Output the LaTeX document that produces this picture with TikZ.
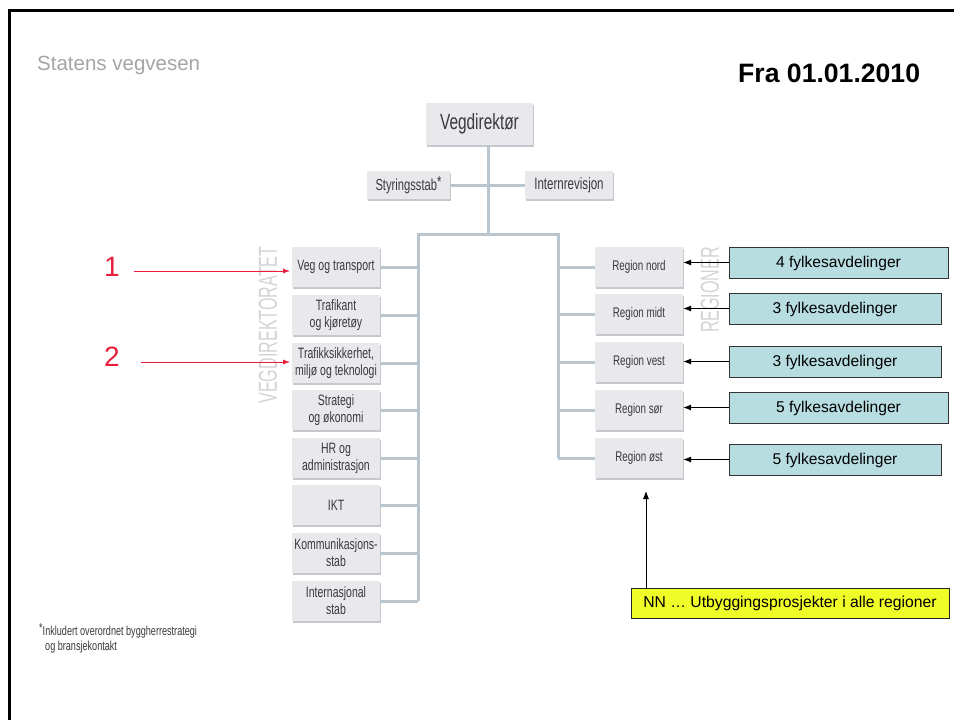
\documentclass[tikz,border=0pt]{standalone}
\usepackage{fontspec}
\setmainfont{Liberation Sans}
\newfontfamily\cond[FakeStretch=0.7]{Liberation Sans}
\newfontfamily\vcond[FakeStretch=0.62]{Liberation Sans}
\usetikzlibrary{arrows.meta,shadows}
\definecolor{boxfill}{RGB}{233,233,236}
\definecolor{boxshadow}{RGB}{196,201,207}
\definecolor{boxtext}{RGB}{58,58,62}
\definecolor{conn}{RGB}{185,197,207}
\definecolor{cyanfill}{RGB}{183,221,225}
\definecolor{yelfill}{RGB}{240,252,40}
\definecolor{redmark}{RGB}{232,30,60}
\definecolor{titlegray}{RGB}{165,165,165}
\definecolor{vertgray}{RGB}{212,212,214}
\tikzset{
  graybox/.style={fill=boxfill, draw=none, text=boxtext, align=center,
    drop shadow={shadow xshift=1.2pt, shadow yshift=-1.6pt, fill=boxshadow, opacity=1},
    inner sep=1pt},
  leftbox/.style={graybox, minimum width=88pt, minimum height=40pt,
    font=\cond\fontsize{15}{17}\selectfont},
  regbox/.style={graybox, minimum width=88pt, minimum height=40pt,
    font=\cond\fontsize{14}{16}\selectfont},
  connline/.style={draw=conn, line width=3pt},
  cyanbox/.style={fill=cyanfill, draw=black!80, line width=0.8pt, minimum height=31pt,
    font=\fontsize{15.6}{18}\selectfont, inner sep=0pt, text depth=1.5pt},
  blackarrow/.style={draw=black, line width=0.8pt, -{Latex[length=8pt,width=6pt]}},
  redarrow/.style={draw=redmark, line width=0.8pt, -{Latex[length=7pt,width=5pt]}},
  vertlabel/.style={rotate=90, text=vertgray, font=\vcond\fontsize{26}{28}\selectfont, inner sep=0pt},
}
\begin{document}
\begin{tikzpicture}[x=1pt,y=-1pt]
\useasboundingbox (0,0) rectangle (954,720);
\fill[white] (0,0) rectangle (954,720);
% frame
\draw[line width=3pt] (9,720) -- (9,10) -- (954,10);

% titles
\node[anchor=base west, text=titlegray, font=\fontsize{20.5}{24}\selectfont, inner sep=0pt] (title) at (37,70) {Statens vegvesen};
\node[anchor=base west, font=\bfseries\fontsize{26.6}{30}\selectfont, inner sep=0pt] (date) at (738,82) {Fra 01.01.2010};

% top boxes
\node[graybox, minimum width=107pt, minimum height=42pt, font=\cond\fontsize{22}{24}\selectfont] (vd) at (479.5,124) {Vegdirektør};
\node[graybox, minimum width=83pt, minimum height=28pt, font=\cond\fontsize{16}{18}\selectfont] (sty) at (408.5,185) {Styringsstab\raisebox{3pt}{*}};
\node[graybox, minimum width=88pt, minimum height=28pt, font=\cond\fontsize{16.5}{18}\selectfont] (int) at (569,185) {Internrevisjon};

% left boxes
\node[leftbox] (l1) at (336,267) {Veg og transport};
\node[leftbox] (l2) at (336,315) {Trafikant\\og kjøretøy};
\node[leftbox] (l3) at (336,363) {Trafikksikkerhet,\\miljø og teknologi};
\node[leftbox] (l4) at (336,410) {Strategi\\og økonomi};
\node[leftbox] (l5) at (336,458) {HR og\\administrasjon};
\node[leftbox] (l6) at (336,505) {IKT};
\node[leftbox] (l7) at (336,553) {Kommunikasjons-\\stab};
\node[leftbox] (l8) at (336,601) {Internasjonal\\stab};

% right boxes
\node[regbox] (r1) at (639,267) {Region nord};
\node[regbox] (r2) at (639,314) {Region midt};
\node[regbox] (r3) at (639,362) {Region vest};
\node[regbox] (r4) at (639,410) {Region sør};
\node[regbox] (r5) at (639,458) {Region øst};

% vertical labels
\node[vertlabel] (vdir) at (268,325) {VEGDIREKTORATET};
\node[vertlabel] (vreg) at (710,290) {REGIONER};

% connector skeleton
\coordinate (jt) at (488,234);
\coordinate (lt) at (418,234);
\coordinate (rt) at (558,234);
\draw[connline] (vd.south -| jt) -- (jt);
\draw[connline] (sty.east) -- (int.west);
\draw[connline] ([xshift=-1.5pt]lt) -- ([xshift=1.5pt]rt);
\draw[connline] (lt) -- (lt |- l8.east);
\draw[connline] (rt) -- (rt |- r5.west);
\foreach \n in {l1,l2,l3,l4,l5,l6,l7,l8}
  \draw[connline] (\n.east) -- (\n.east -| lt);
\foreach \n in {r1,r2,r3,r4,r5}
  \draw[connline] (\n.west) -- (\n.west -| rt);

% cyan boxes
\node[cyanbox, minimum width=219pt] (c1) at (838.5,262.5) {4 fylkesavdelinger};
\node[cyanbox, minimum width=212pt] (c2) at (835,308.5) {3 fylkesavdelinger};
\node[cyanbox, minimum width=212pt] (c3) at (835,361.5) {3 fylkesavdelinger};
\node[cyanbox, minimum width=219pt] (c4) at (838.5,407.5) {5 fylkesavdelinger};
\node[cyanbox, minimum width=212pt] (c5) at (835,459.5) {5 fylkesavdelinger};
\foreach \i in {1,...,5}
  \draw[blackarrow] (c\i.west) -- (c\i.west -| r\i.east);

% yellow box
\node[fill=yelfill, draw=black!85, line width=0.8pt, minimum width=318pt, minimum height=30pt,
  font=\fontsize{15.7}{18}\selectfont, inner sep=0pt, text depth=1.5pt] (nn) at (790,603) {NN … Utbyggingsprosjekter i alle regioner};
\coordinate (nnarr) at (646,491);
\draw[blackarrow] (nn.north -| nnarr) -- (nnarr);

% red markers
\node[text=redmark, font=\fontsize{28}{30}\selectfont, inner sep=0pt] (m1) at (112,267) {1};
\node[text=redmark, font=\fontsize{28}{30}\selectfont, inner sep=0pt] (m2) at (112,357) {2};
\coordinate (a1) at (290,271);
\coordinate (a2) at (290,362);
\draw[redarrow] ([xshift=14pt]m1.east |- a1) -- (a1);
\draw[redarrow] ([xshift=21pt]m2.east |- a2) -- (a2);

% footnote
\node[anchor=north west, align=left, text=boxtext, font=\cond\fontsize{13}{15}\selectfont, inner sep=0pt] (fn) at (39,623)
  {\raisebox{3pt}{*}Inkludert overordnet byggherrestrategi\\\hspace*{6pt}og bransjekontakt};
\end{tikzpicture}
\end{document}
